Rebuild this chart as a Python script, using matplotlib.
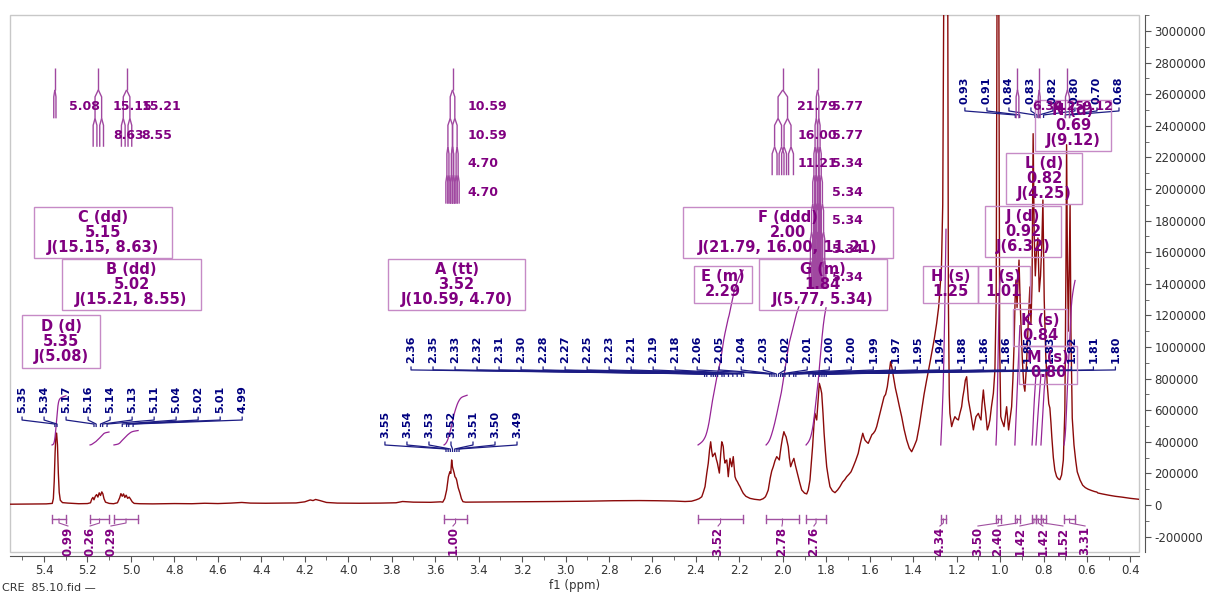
import numpy as np
import matplotlib.pyplot as plt
from matplotlib.patches import Rectangle
from matplotlib.collections import LineCollection
from matplotlib.ticker import MultipleLocator, FuncFormatter

plt.rcParams['font.family'] = ['DejaVu Sans']
plt.rcParams['axes.unicode_minus'] = False

# spectrum trace: shift (ppm) and intensity (x1000)
olefin_ppm = [5.556, 5.45, 5.39, 5.37, 5.362, 5.357, 5.353, 5.349, 5.345, 5.342, 5.338,
              5.334, 5.330, 5.325, 5.315, 5.29, 5.24, 5.20, 5.186, 5.180, 5.175, 5.170,
              5.164, 5.158, 5.152, 5.146, 5.140, 5.134, 5.129, 5.124, 5.117, 5.10, 5.08,
              5.062, 5.052, 5.046, 5.040, 5.034, 5.028, 5.022, 5.015, 5.008, 5.002,
              4.994, 4.985, 4.96]
olefin_k = [5, 6, 7, 9, 10, 40, 150, 330, 450, 455, 380,
            200, 80, 30, 15, 12, 8, 9, 14, 38, 48, 33,
            55, 66, 50, 77, 60, 83, 70, 40, 18, 10, 8,
            14, 45, 72, 55, 70, 48, 62, 42, 50, 38,
            20, 10, 8]

mid_ppm = [4.90, 4.80, 4.72, 4.66, 4.60, 4.54, 4.49, 4.45, 4.38, 4.30, 4.24, 4.20, 4.175,
           4.162, 4.150, 4.13, 4.10, 4.05, 3.95, 3.85, 3.78, 3.75, 3.70, 3.62, 3.575,
           3.565, 3.556, 3.547, 3.539, 3.532, 3.528, 3.524, 3.520, 3.516, 3.512, 3.509,
           3.504, 3.501, 3.494, 3.486, 3.479, 3.472, 3.46, 3.35, 3.20, 3.05, 2.90, 2.78,
           2.66, 2.58, 2.50, 2.45, 2.42]
mid_k = [7, 9, 8, 11, 9, 12, 16, 12, 11, 12, 13, 20, 32,
         28, 35, 28, 16, 12, 11, 12, 14, 22, 18, 17, 20,
         18, 40, 95, 179, 211, 200, 285, 240, 221, 200, 179,
         170, 158, 110, 76, 40, 21, 18, 19, 21, 22, 24, 27,
         28, 27, 25, 22, 24]

allyl_ppm = [2.40, 2.385, 2.373, 2.366, 2.358, 2.350, 2.343, 2.337, 2.332, 2.327, 2.323,
             2.317, 2.312, 2.306, 2.301, 2.296, 2.292, 2.286, 2.281, 2.277, 2.274, 2.270,
             2.266, 2.262, 2.258, 2.254, 2.251, 2.247, 2.243, 2.239, 2.235, 2.231, 2.228,
             2.224, 2.220, 2.215, 2.209, 2.203, 2.197, 2.190, 2.182, 2.170, 2.151, 2.130,
             2.105, 2.090, 2.080, 2.074, 2.067, 2.058, 2.051, 2.044, 2.036, 2.028, 2.022,
             2.016, 2.012, 2.008, 2.002, 1.995, 1.990, 1.985, 1.980, 1.975, 1.970, 1.964,
             1.957, 1.949, 1.942, 1.933, 1.922, 1.913, 1.900, 1.890, 1.883, 1.875, 1.869,
             1.863, 1.857, 1.852, 1.848, 1.844, 1.838, 1.832, 1.826, 1.821, 1.815, 1.810,
             1.804, 1.798, 1.790, 1.783, 1.772, 1.760, 1.748, 1.737]
allyl_k = [32, 40, 52, 80, 116, 200, 265, 350, 400, 340, 306,
           320, 329, 290, 265, 230, 202, 320, 400, 385, 369, 300,
           265, 280, 285, 230, 179, 240, 295, 270, 242, 280, 306,
           240, 179, 160, 147, 130, 116, 95, 74, 55, 42, 36,
           32, 40, 52, 70, 95, 170, 215, 242, 280, 306, 295,
           285, 330, 369, 420, 464, 445, 432, 400, 369, 300, 242,
           270, 295, 250, 200, 140, 95, 75, 70, 95, 158, 260,
           369, 500, 580, 560, 538, 650, 770, 740, 707, 580, 454,
           340, 242, 170, 116, 90, 78, 95, 116]

ring_ppm = [1.725, 1.715, 1.706, 1.695, 1.686, 1.676, 1.665, 1.653, 1.645, 1.638, 1.632,
            1.627, 1.622, 1.615, 1.607, 1.598, 1.590, 1.583, 1.575, 1.568, 1.560, 1.553,
            1.545, 1.540, 1.534, 1.527, 1.519, 1.512, 1.504, 1.498, 1.491, 1.482, 1.473,
            1.463, 1.453, 1.442, 1.430, 1.418, 1.407, 1.396, 1.384, 1.372, 1.361, 1.350,
            1.338, 1.327, 1.315, 1.303, 1.292, 1.283, 1.277, 1.270, 1.264, 1.259, 1.250,
            1.241, 1.238, 1.234, 1.231, 1.223, 1.216, 1.208, 1.200, 1.192, 1.185, 1.177,
            1.172, 1.166, 1.160, 1.154, 1.150, 1.146, 1.140, 1.135, 1.128, 1.123, 1.117,
            1.111, 1.105, 1.100, 1.094, 1.088, 1.083, 1.077, 1.072, 1.066, 1.059, 1.053,
            1.047, 1.040, 1.031, 1.024, 1.018, 1.014, 1.010, 1.006, 1.002, 0.997, 0.993,
            0.988, 0.982, 0.976, 0.970, 0.966, 0.961, 0.955]
ring_k = [145, 160, 179, 195, 210, 242, 280, 327, 380, 420, 454,
          430, 411, 400, 390, 420, 445, 454, 470, 496, 540, 580,
          620, 650, 685, 700, 749, 820, 907, 870, 812, 740, 685,
          620, 559, 480, 411, 360, 337, 370, 411, 500, 601, 700,
          791, 870, 960, 1050, 1150, 1250, 1361, 1500, 1900, 3300, 5000,
          3300, 1300, 700, 580, 496, 530, 559, 545, 538, 580, 622,
          680, 728, 790, 812, 740, 665, 620, 580, 520, 475, 520,
          559, 570, 580, 555, 538, 640, 728, 650, 580, 475, 500,
          538, 620, 707, 850, 1300, 3300, 4500, 3300, 1000, 560, 538,
          520, 496, 560, 622, 560, 475, 540]

methyl_ppm = [0.947, 0.941, 0.936, 0.931, 0.927, 0.922, 0.918, 0.913, 0.908, 0.903, 0.897,
              0.891, 0.886, 0.880, 0.875, 0.869, 0.863, 0.858, 0.853, 0.848, 0.843, 0.838,
              0.833, 0.826, 0.820, 0.814, 0.808, 0.803, 0.797, 0.790, 0.783, 0.776, 0.771,
              0.766, 0.762, 0.755, 0.748, 0.740, 0.732, 0.725, 0.717, 0.709, 0.702, 0.697,
              0.694, 0.690, 0.686, 0.682, 0.678, 0.674, 0.668, 0.660, 0.652, 0.645, 0.632,
              0.620, 0.608, 0.595, 0.580, 0.565, 0.555, 0.550, 0.530, 0.50, 0.47, 0.44,
              0.40, 0.361]
methyl_k = [622, 800, 1000, 1300, 1424, 1250, 1400, 1550, 1300, 1100, 900,
            760, 720, 850, 1000, 1200, 1380, 1150, 1400, 2350, 1700, 1450,
            1600, 1690, 1350, 1450, 1650, 1930, 1300, 950, 760, 640, 614,
            520, 430, 300, 220, 180, 165, 160, 190, 285, 600, 1500,
            2280, 1500, 1100, 1500, 1900, 1100, 550, 380, 280, 210, 158,
            125, 110, 100, 92, 85, 82, 76, 70, 62, 55, 50,
            42, 36]

# peak picking labels
peaks_olefin = [5.35, 5.34, 5.17, 5.16, 5.14, 5.13, 5.11, 5.04, 5.02, 5.01, 4.99]
peaks_carbinol = [3.55, 3.54, 3.53, 3.52, 3.51, 3.50, 3.49]
peaks_allyl = [2.36, 2.35, 2.33, 2.32, 2.31, 2.30, 2.28, 2.27, 2.25, 2.23, 2.21, 2.19,
               2.18, 2.06, 2.05, 2.04, 2.03, 2.02, 2.01, 2.00, 2.00, 1.99, 1.97, 1.95,
               1.94, 1.88, 1.86, 1.86, 1.85, 1.83, 1.82, 1.81, 1.80]
peaks_methyl = [0.93, 0.91, 0.84, 0.83, 0.82, 0.80, 0.70, 0.68]

# multiplet analysis
mult_names = ['D', 'C', 'B', 'A', 'F', 'E', 'G', 'H', 'I', 'J', 'L', 'N', 'K', 'M']
mult_types = ['d', 'dd', 'dd', 'tt', 'ddd', 'm', 'm', 's', 's', 'd', 'd', 'd', 's', 's']
mult_shifts = [5.35, 5.15, 5.02, 3.52, 2.00, 2.29, 1.84, 1.25, 1.01, 0.92, 0.82, 0.69, 0.84, 0.80]
mult_J = [[5.08], [15.15, 8.63], [15.21, 8.55], [10.59, 4.70], [21.79, 16.00, 11.21], [],
          [5.77, 5.34], [], [], [6.32], [4.25], [9.12], [], []]

# coupling trees (one entry per splitting level)
tree_shifts = [5.35, 5.15, 5.02, 3.52, 2.00, 1.84, 0.92, 0.82, 0.69]
tree_levels = [[5.08], [15.15, 8.63], [15.21, 8.55], [10.59, 10.59, 4.70, 4.70],
               [21.79, 16.00, 11.21], [5.77, 5.77, 5.34, 5.34, 5.34, 5.34, 5.34],
               [6.32], [4.25], [9.12]]

# integrals
int_from = [5.363, 5.188, 5.078, 3.559, 2.390, 2.077, 1.893, 1.273, 1.019, 0.932, 0.853, 0.835, 0.812, 0.706]
int_to = [5.299, 5.101, 4.967, 3.453, 2.183, 1.926, 1.801, 1.249, 0.996, 0.909, 0.835, 0.812, 0.789, 0.655]
int_values = [0.99, 0.26, 0.29, 1.00, 3.52, 2.78, 2.76, 4.34, 3.50, 2.40, 1.42, 1.42, 1.52, 3.31]

# ---- layout ----
SPEC_C = '#8b0a0a'
NAVY = '#000080'
PURPLE = '#800080'
TREE_C = '#a048a0'
INT_C = '#962496'
PX = 6329.0            # intensity per pixel
STEP = 0.1013          # label spacing (ppm)
label_first = [5.501, 3.831, 3.711, 1.162]
label_bottom = [582e3, 424e3, 899e3, 2538e3]
int_label_x = [5.29, 5.188, 5.092, 3.518, 2.298, 2.004, 1.857, 1.277, 1.102, 1.010, 0.909, 0.803, 0.711, 0.609]
# box edges: left ppm, right ppm, bottom, top
box_l = [5.501, 5.446, 5.317, 3.817, 2.459, 2.409, 2.110, 1.355, 1.102, 1.070, 0.973, 0.840, 0.941, 0.913]
box_r = [5.142, 4.811, 4.678, 3.186, 1.493, 2.142, 1.521, 1.102, 0.863, 0.720, 0.623, 0.490, 0.692, 0.646]
box_b = [867e3, 1563e3, 1234e3, 1234e3, 1563e3, 1278e3, 1234e3, 1278e3, 1278e3, 1570e3, 1905e3, 2240e3, 1006e3, 766e3]
box_t = [1202e3, 1886e3, 1557e3, 1557e3, 1886e3, 1513e3, 1557e3, 1513e3, 1513e3, 1892e3, 2228e3, 2563e3, 1240e3, 1006e3]
MHZ = 500.0
TREE_TOP = 2766e3
STEM_END = 2627e3
LEVEL = 180e3
SLANT = 44e3
INT_BASE = 380e3
INT_SCALE = 314.5e3

fig = plt.figure(figsize=(12.11, 5.93), dpi=100)
ax = fig.add_axes([10 / 1211, 41 / 593, 1129 / 1211, 537 / 593])

ppm = np.array(olefin_ppm + mid_ppm + allyl_ppm + ring_ppm + methyl_ppm)
inten = np.array(olefin_k + mid_k + allyl_k + ring_k + methyl_k) * 1000.0
ax.plot(ppm, inten, color=SPEC_C, lw=1.0, zorder=3)

# integrals: curves, brackets, values
order = np.argsort(ppm)
for a, b, v, lx in zip(int_from, int_to, int_values, int_label_x):
    g = np.linspace(a, b, 300)
    s = np.interp(g, ppm[order], inten[order])
    cum = np.concatenate([[0], np.cumsum((s[1:] + s[:-1]) / 2)])
    ax.plot(g, INT_BASE + cum / cum[-1] * v * INT_SCALE, color=INT_C, lw=0.9, zorder=4)
    yb = -14 * PX
    mid = (a + b) / 2
    ax.plot([a, b], [yb, yb], color='#a050a0', lw=1)
    for e in (a, b):
        ax.plot([e, e], [yb - 4 * PX, yb + 4 * PX], color='#a050a0', lw=1)
    ax.plot([mid, mid, lx], [yb, yb - 4 * PX, yb - 7 * PX], color='#a050a0', lw=0.8)
    ax.text(lx, yb - 7.5 * PX, f'{v:.2f}', rotation=90, ha='center', va='top',
            fontsize=8.5, fontweight='bold', color=PURPLE)

# peak picking labels with leader lines
lead = []
for vals, first, y0 in zip([peaks_olefin, peaks_carbinol, peaks_allyl, peaks_methyl],
                           label_first, label_bottom):
    for i, p in enumerate(vals):
        lx = first - i * STEP
        ax.text(lx, y0, f'{p:.2f}', rotation=90, ha='center', va='bottom',
                fontsize=8, fontweight='bold', color=NAVY, zorder=6)
        lead.append([(lx, y0 - 3.5 * PX), (lx, y0 - 7 * PX), (p, y0 - 11 * PX), (p, y0 - 14 * PX)])
ax.add_collection(LineCollection(lead, colors='#1c1c84', linewidths=0.9, zorder=5))

# multiplet boxes
for i, name in enumerate(mult_names):
    lines = [f'{name} ({mult_types[i]})', f'{mult_shifts[i]:.2f}']
    if mult_J[i]:
        lines.append('J(' + ', '.join(f'{j:.2f}' for j in mult_J[i]) + ')')
    ax.add_patch(Rectangle((box_r[i], box_b[i]), box_l[i] - box_r[i], box_t[i] - box_b[i],
                           fill=False, edgecolor='#c68ac6', lw=1, zorder=5))
    ax.text((box_l[i] + box_r[i]) / 2, (box_b[i] + box_t[i]) / 2, '\n'.join(lines),
            ha='center', va='center', multialignment='center', linespacing=1.0,
            fontsize=10.5, fontweight='bold', color=PURPLE, zorder=6)

# coupling trees
segs = []
for c, levels in zip(tree_shifts, tree_levels):
    segs.append([(c, TREE_TOP), (c, STEM_END)])
    nodes = [c]
    y = STEM_END
    for k, j in enumerate(levels):
        half = j / MHZ / 2
        new = []
        for n in nodes:
            for q in (n - half, n + half):
                segs.append([(n, y), (q, y - SLANT), (q, y - LEVEL)])
                new.append(q)
        ax.text(c - 0.067, y - 0.6 * LEVEL, f'{j:.2f}', ha='left', va='center',
                fontsize=9, fontweight='bold', color=PURPLE, zorder=6)
        nodes = new
        y -= LEVEL
ax.add_collection(LineCollection(segs, colors=TREE_C, linewidths=1.0, zorder=5))

# axes styling
ax.set_xlim(5.5565, 0.3608)
ax.set_ylim(-297.5e3, 3101e3)
ax.add_patch(Rectangle((0, 0), 1, 1, transform=ax.transAxes, fill=False,
                       edgecolor='#c8c8c8', lw=1, clip_on=False, zorder=1))
for side in ['left', 'top']:
    ax.spines[side].set_visible(False)
for side in ['bottom', 'right']:
    ax.spines[side].set_color('#555555')
ax.spines['bottom'].set_position(('outward', 3))
ax.spines['right'].set_position(('outward', 4))
ax.yaxis.tick_right()
ax.xaxis.set_major_locator(MultipleLocator(0.2))
ax.xaxis.set_minor_locator(MultipleLocator(0.1))
ax.yaxis.set_major_locator(MultipleLocator(200000))
ax.yaxis.set_minor_locator(MultipleLocator(100000))
ax.xaxis.set_major_formatter(FuncFormatter(lambda v, p: f'{v:.1f}'))
ax.yaxis.set_major_formatter(FuncFormatter(lambda v, p: f'{int(round(v))}'))
ax.tick_params(axis='x', which='major', length=4, color='#555555', labelsize=8.5,
               labelcolor='#333333', pad=2)
ax.tick_params(axis='x', which='minor', length=3, color='#555555')
ax.tick_params(axis='y', which='major', length=4, color='#555555', labelsize=8.5,
               labelcolor='#333333', pad=3)
ax.tick_params(axis='y', which='minor', length=3, color='#555555')
ax.set_xlabel('f1 (ppm)', fontsize=8.5, color='#333333', labelpad=1)
fig.text(2 / 1211, 1 - 588 / 593, 'CRE  85.10.fid —', fontsize=8, color='#333333', va='center')

fig.savefig('out.png', dpi=100)
